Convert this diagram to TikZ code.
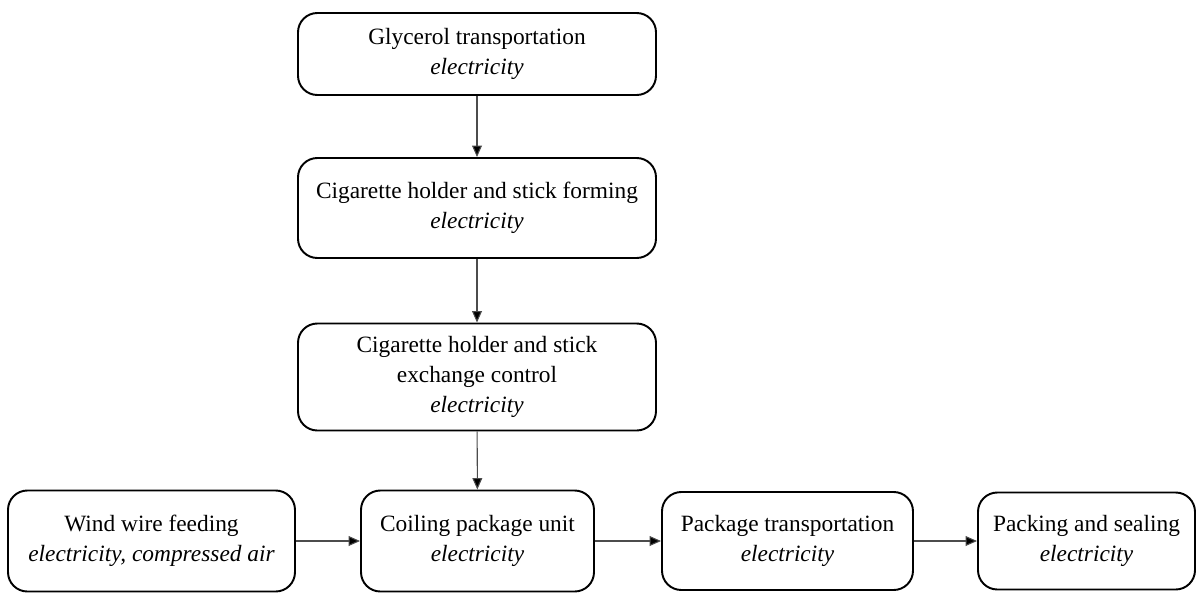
\documentclass[tikz,border=0pt]{standalone}
\usepackage{fontspec}
\setmainfont{Liberation Serif}
\usetikzlibrary{arrows.meta}

\begin{document}
\begin{tikzpicture}[x=0.02cm, y=-0.02cm,
    stage/.style={draw=black, line width=1.1pt, rounded corners=11pt, align=center,
        inner sep=0pt, font=\fontsize{13.3}{17}\selectfont},
    flow/.style={draw=black!70, line width=0.6pt, -{Triangle[length=6.5pt,width=5.6pt,fill=black]}}]
    \useasboundingbox (0,0) rectangle (1197,595);

    \node[stage, minimum width=358*0.02cm, minimum height=82*0.02cm] (glyc) at (477,54)
        {Glycerol transportation\\\textit{electricity}};
    \node[stage, minimum width=358*0.02cm, minimum height=100*0.02cm] (form) at (477,208)
        {Cigarette holder and stick forming\\\textit{electricity}};
    \node[stage, minimum width=358*0.02cm, minimum height=107*0.02cm] (exch) at (477,377)
        {Cigarette holder and stick\\exchange control\\\textit{electricity}};

    \node[stage, minimum width=287*0.02cm, minimum height=101*0.02cm] (wind) at (151.5,541)
        {Wind wire feeding\\\textit{electricity, compressed air}};
    \node[stage, minimum width=233*0.02cm, minimum height=101*0.02cm] (coil) at (477.5,541)
        {Coiling package unit\\\textit{electricity}};
    \node[stage, minimum width=251*0.02cm, minimum height=98*0.02cm] (ptran) at (787.5,541)
        {Package transportation\\\textit{electricity}};
    \node[stage, minimum width=217*0.02cm, minimum height=97*0.02cm] (pack) at (1086.5,541)
        {Packing and sealing\\\textit{electricity}};

    \draw[flow] (glyc) -- (form);
    \draw[flow] (form) -- (exch);
    \draw[flow] (exch) -- (coil);
    \draw[flow] (wind) -- (coil);
    \draw[flow] (coil) -- (ptran);
    \draw[flow] (ptran) -- (pack);
\end{tikzpicture}
\end{document}
